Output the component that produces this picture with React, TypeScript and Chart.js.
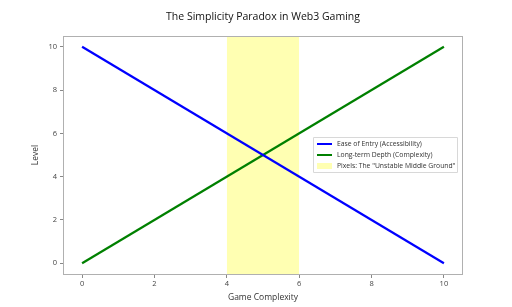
import React, { useEffect, useRef } from "react";
import { Chart, registerables } from "chart.js";
Chart.register(...registerables);

const complexity = [0, 10];
const easeOfEntry = [10, 0];
const longTermDepth = [0, 10];
const bandRange = [4, 6];
const xTicks = [0, 2, 4, 6, 8, 10];
const yTicks = [0, 2, 4, 6, 8, 10];
const labels = [
  "Ease of Entry (Accessibility)",
  "Long-term Depth (Complexity)",
  'Pixels: The "Unstable Middle Ground"',
];
const title = "The Simplicity Paradox in Web3 Gaming";

const FONT = "'Open Sans', sans-serif";

const framePlugin = {
  id: "frame",
  afterDraw(chart: any) {
    const { ctx, chartArea: a } = chart;
    ctx.save();
    ctx.strokeStyle = "#b0b0b0";
    ctx.lineWidth = 1;
    ctx.strokeRect(Math.round(a.left) - 0.5, Math.round(a.top) + 0.5, Math.round(a.right - a.left) + 1, Math.round(a.bottom - a.top));
    // title
    ctx.fillStyle = "#111";
    ctx.font = `10.5px ${FONT}`;
    ctx.textAlign = "center";
    ctx.textBaseline = "middle";
    ctx.fillText(title, (a.left + a.right) / 2, 17);
    // legend
    const lx = 313, ly = 137, lw = 144, lh = 35;
    ctx.fillStyle = "rgba(255,255,255,0.85)";
    ctx.strokeStyle = "#d8d8d8";
    ctx.beginPath();
    ctx.rect(lx + 0.5, ly + 0.5, lw, lh);
    ctx.fill();
    ctx.stroke();
    ctx.font = `6.8px ${FONT}`;
    ctx.textAlign = "left";
    chart.data.datasets.forEach((ds: any, i: number) => {
      const y = ly + 7 + i * 11;
      if (i < 2) {
        ctx.strokeStyle = ds.borderColor;
        ctx.lineWidth = 2;
        ctx.beginPath();
        ctx.moveTo(lx + 4, y);
        ctx.lineTo(lx + 19, y);
        ctx.stroke();
      } else {
        ctx.fillStyle = ds.backgroundColor;
        ctx.fillRect(lx + 4, y - 3, 15, 6);
      }
      ctx.fillStyle = "#333";
      ctx.fillText(ds.label, lx + 24, y);
    });
    ctx.restore();
  },
};

export default function App() {
  const ref = useRef<HTMLCanvasElement>(null);
  useEffect(() => {
    document.body.style.margin = "0";
    const chart = new Chart(ref.current!, {
      type: "line",
      data: {
        datasets: [
          {
            label: labels[0],
            data: complexity.map((x, i) => ({ x, y: easeOfEntry[i] })),
            borderColor: "#0000ff",
            borderWidth: 2.2,
            pointRadius: 0,
            fill: false,
          },
          {
            label: labels[1],
            data: complexity.map((x, i) => ({ x, y: longTermDepth[i] })),
            borderColor: "#008000",
            borderWidth: 2.2,
            pointRadius: 0,
            fill: false,
          },
          {
            label: labels[2],
            data: bandRange.map((x) => ({ x, y: 10.5 })),
            borderColor: "rgba(0,0,0,0)",
            backgroundColor: "rgba(255,255,0,0.3)",
            borderWidth: 0,
            pointRadius: 0,
            fill: "start",
            order: 10,
          },
        ],
      },
      options: {
        animation: false,
        responsive: false,
        layout: { padding: { top: 36, right: 50, left: 26, bottom: 0 } },
        plugins: { legend: { display: false }, tooltip: { enabled: false }, title: { display: false } },
        scales: {
          x: {
            type: "linear",
            min: -0.5,
            max: 10.5,
            afterBuildTicks: (s: any) => { s.ticks = xTicks.map((v) => ({ value: v })); },
            afterFit: (s: any) => { s.height = 33; },
            grid: { drawOnChartArea: false, tickLength: 4, color: "#888" },
            border: { display: false },
            ticks: { color: "#444", font: { family: FONT, size: 7.5 }, padding: 1 },
            title: { display: true, text: "Game Complexity", color: "#333", font: { family: FONT, size: 8.5 }, padding: { top: 0, bottom: 4 } },
          },
          y: {
            type: "linear",
            min: -0.5,
            max: 10.5,
            afterBuildTicks: (s: any) => { s.ticks = yTicks.map((v) => ({ value: v })); },
            afterFit: (s: any) => { s.width = 38; },
            grid: { drawOnChartArea: false, tickLength: 4, color: "#888" },
            border: { display: false },
            ticks: { color: "#444", font: { family: FONT, size: 7.5 }, padding: 3 },
            title: { display: true, text: "Level", color: "#333", font: { family: FONT, size: 8.5 }, padding: { bottom: 6 } },
          },
        },
      },
      plugins: [framePlugin],
    });
    return () => chart.destroy();
  }, []);
  return (
    <div style={{ width: 512, height: 307 }}>
      <canvas ref={ref} width={512} height={307} style={{ width: 512, height: 307 }} />
    </div>
  );
}
